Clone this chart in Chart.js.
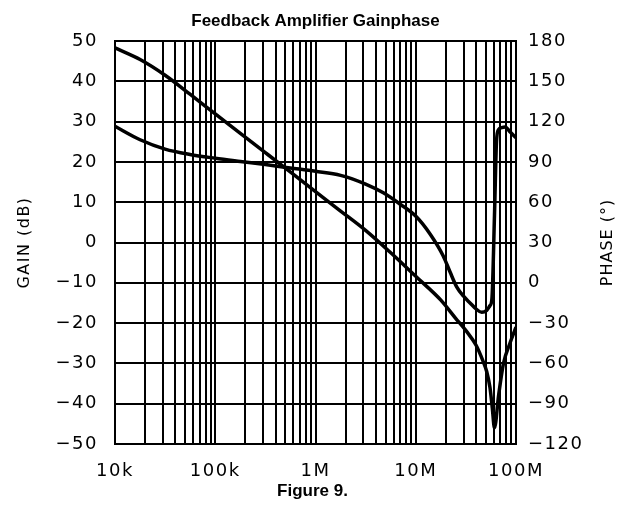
<!DOCTYPE html>
<html>
<head>
<meta charset="utf-8">
<script src="https://cdn.jsdelivr.net/npm/chart.js@4"></script>
<style>
  html, body { margin: 0; padding: 0; background: #fff; }
</style>
</head>
<body>
<canvas id="myChart" width="623" height="508"></canvas>
<script>
// gain curve (Hz, dB)
const gainFreq = [1e4, 1.78e4, 3.16e4, 5.6e4, 1e5, 1.78e5, 3.16e5, 5.6e5, 1e6, 1.78e6, 3.16e6, 5.6e6, 1e7, 1.78e7, 2.5e7, 3.2e7, 4e7, 4.7e7, 5.1e7, 5.5e7, 5.8e7, 6.1e7, 6.7e7, 7.5e7, 8.7e7, 1e8]
const gainDb = [48.3, 45.4, 41.5, 36.8, 31.9, 27.1, 22.3, 17.5, 12.6, 7.8, 3.0, -2.5, -8.4, -14.3, -18.8, -22, -25.5, -29.5, -32, -36, -41, -46, -38, -30, -25, -21]

// phase curve (Hz, degrees)
const phaseFreq = [1e4, 1.78e4, 3.16e4, 5.6e4, 1e5, 1.78e5, 3.16e5, 5.6e5, 1e6, 1.78e6, 3.16e6, 4.75e6, 7e6, 1.02e7, 1.4e7, 1.88e7, 2.2e7, 2.56e7, 3e7, 3.48e7, 4e7, 4.55e7, 5.1e7, 5.5e7, 5.75e7, 6.1e7, 6.4e7, 6.7e7, 7.2e7, 7.8e7, 8.8e7, 1e8]
const phaseDeg = [116.5, 106.5, 99.5, 95.5, 92.7, 90.3, 88, 85.5, 83, 80, 73.5, 67, 58.5, 49, 36, 20, 8, -3, -10, -15, -19.5, -22, -20.5, -17, -12, 50, 106, 114, 115.5, 116, 112, 108]

// axes
const xDecades = [1e4, 1e5, 1e6, 1e7, 1e8]
const xTickLabels = ['10k', '100k', '1M', '10M', '100M']
const gainRange = [-50, 50, 10]
const phaseRange = [-120, 180, 30]

const chartTitle = 'Feedback Amplifier Gainphase'
const figureCaption = 'Figure 9.'
const gainTitle = 'GAIN (dB)'
const phaseTitle = 'PHASE (°)'

function toPoints(xs, ys) {
  return xs.map(function (x, i) { return { x: x, y: ys[i] } })
}

function signed(v) {
  return v < 0 ? '\u2212' + Math.abs(v) : '' + v
}

const tickFont = { family: 'DejaVu Sans', size: 18 }
const axisTitleFont = { family: 'DejaVu Sans', size: 16 }

// the plotter lettering is spaced out; titles are drawn by hand afterwards
const lettering = {
  id: 'lettering',
  beforeDraw: function (chart) {
    chart.ctx.letterSpacing = '1.5px'
  },
  afterDraw: function (chart) {
    const c = chart.ctx
    const area = chart.chartArea
    const mid = (area.left + area.right) / 2
    c.save()
    c.letterSpacing = '0px'
    c.fillStyle = '#000'
    c.textAlign = 'center'
    c.textBaseline = 'middle'
    c.font = 'bold 17px "Liberation Sans"'
    c.fillText(chartTitle, mid, 21)
    c.fillText(figureCaption, mid - 3, 491)
    c.letterSpacing = '1px'
    c.font = '16px "DejaVu Sans"'
    c.translate(608, (area.top + area.bottom) / 2)
    c.rotate(-Math.PI / 2)
    c.fillText(phaseTitle, 0, 0)
    c.restore()
  }
}

const ctx = document.getElementById('myChart').getContext('2d')
const chart = new Chart(ctx, {
  type: 'line',
  data: {
    datasets: [{
      label: 'Gain',
      data: toPoints(gainFreq, gainDb),
      yAxisID: 'y',
      borderColor: '#000',
      borderWidth: 3.5,
      pointRadius: 0,
      cubicInterpolationMode: 'monotone',
      fill: false
    }, {
      label: 'Phase',
      data: toPoints(phaseFreq, phaseDeg),
      yAxisID: 'y1',
      borderColor: '#000',
      borderWidth: 3.5,
      pointRadius: 0,
      cubicInterpolationMode: 'monotone',
      fill: false
    }]
  },
  options: {
    responsive: false,
    animation: false,
    layout: { padding: { top: 41, left: 0, right: 0, bottom: 0 } },
    plugins: {
      legend: { display: false },
      tooltip: { enabled: false },
      title: { display: false }
    },
    scales: {
      x: {
        type: 'logarithmic',
        min: xDecades[0],
        max: xDecades[xDecades.length - 1],
        afterBuildTicks: function (scale) {
          // decade lines plus 2..9 minor lines, like the log paper
          const ticks = []
          xDecades.forEach(function (d, i) {
            ticks.push({ value: d })
            if (i < xDecades.length - 1) {
              for (let m = 2; m <= 9; m++) ticks.push({ value: d * m })
            }
          })
          scale.ticks = ticks
        },
        afterFit: function (scale) { scale.height = 64 },
        ticks: {
          autoSkip: false,
          maxRotation: 0,
          color: '#000',
          font: tickFont,
          padding: 17,
          callback: function (value) {
            const i = xDecades.indexOf(value)
            return i >= 0 ? xTickLabels[i] : ''
          }
        },
        grid: { color: '#000', lineWidth: 2, drawTicks: false },
        border: { color: '#000', width: 2 }
      },
      y: {
        position: 'left',
        min: gainRange[0],
        max: gainRange[1],
        afterFit: function (scale) { scale.width = 115 },
        ticks: {
          stepSize: gainRange[2],
          color: '#000',
          font: tickFont,
          padding: 17,
          callback: signed
        },
        grid: { color: '#000', lineWidth: 2, drawTicks: false },
        border: { color: '#000', width: 2 },
        title: {
          display: true,
          text: gainTitle,
          color: '#000',
          font: axisTitleFont,
          padding: { top: 15, bottom: 0 }
        }
      },
      y1: {
        position: 'right',
        min: phaseRange[0],
        max: phaseRange[1],
        afterFit: function (scale) { scale.width = 107 },
        ticks: {
          stepSize: phaseRange[2],
          color: '#000',
          font: tickFont,
          padding: 12,
          callback: signed
        },
        grid: { drawOnChartArea: false, drawTicks: false },
        border: { color: '#000', width: 2 }
      }
    }
  },
  plugins: [lettering]
})
</script>
</body>
</html>
